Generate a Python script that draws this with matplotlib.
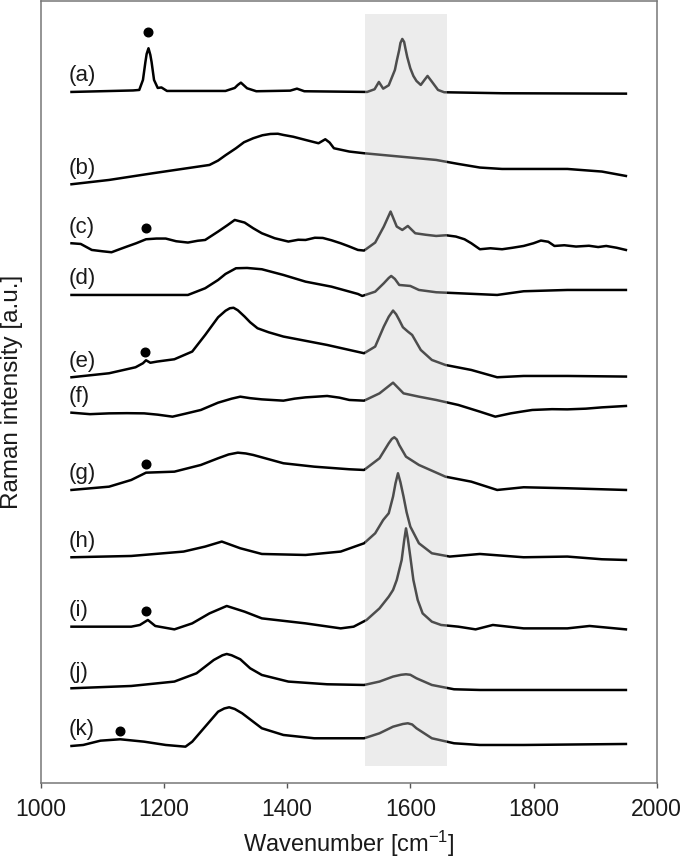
#!/usr/bin/env python3
"""Stacked Raman spectra (a)-(k) with the G-band region shaded."""

import matplotlib

matplotlib.use("Agg")
import matplotlib.pyplot as plt

plt.rcParams["font.family"] = ["Liberation Sans", "DejaVu Sans"]
plt.rcParams["mathtext.default"] = "regular"

# spectra: wavenumber [cm-1] and intensity [a.u.] above each trace offset
wn_a = [1050, 1150, 1160, 1166, 1170, 1172, 1175, 1178, 1180, 1184,
        1190, 1196, 1205, 1300, 1315, 1320, 1325, 1330, 1335, 1350,
        1405, 1416, 1428, 1530, 1542, 1549, 1556, 1565, 1575, 1578,
        1582, 1584, 1587, 1590, 1592, 1595, 1600, 1605, 1610, 1617,
        1623, 1628, 1635, 1645, 1655, 1750, 1950]
int_a = [0, 1.5, 2, 12, 30, 38, 43.7, 37, 30, 12,
         4, 4.5, 1, 1, 4, 7, 9.3, 6.5, 3.7, 0.7,
         1.3, 3.3, 0.7, 0, 2.7, 10, 3.3, 6.7, 22, 31,
         42, 49, 53, 50, 43.7, 35, 23.7, 16, 11, 7,
         12, 16, 10.3, 2, -0.3, -1.3, -1.7]

wn_b = [1050, 1111, 1182, 1274, 1288, 1300, 1317, 1330, 1345, 1360,
        1373, 1385, 1394, 1410, 1430, 1451, 1462, 1469, 1476, 1501,
        1525, 1572, 1642, 1678, 1713, 1749, 1855, 1911, 1950]
int_b = [0, 4.3, 11, 19.3, 23.7, 29, 36, 42, 46, 49,
         50.3, 50.5, 49.3, 47.5, 44.3, 41, 45, 41.7, 36, 32.7,
         31, 28.3, 24.3, 20.3, 16.7, 15.3, 15.3, 12.7, 8.3]

wn_c = [1050, 1065, 1083, 1100, 1115, 1128, 1140, 1155, 1171, 1188,
        1203, 1220, 1239, 1255, 1267, 1288, 1303, 1315, 1323, 1331,
        1345, 1359, 1380, 1402, 1418, 1430, 1445, 1458, 1472, 1487,
        1500, 1515, 1525, 1543, 1557, 1568, 1578, 1587, 1596, 1608,
        1625, 1642, 1658, 1674, 1688, 1699, 1713, 1730, 1749, 1766,
        1784, 1800, 1812, 1824, 1834, 1850, 1869, 1890, 1905, 1918,
        1935, 1950]
int_c = [0, -0.7, -6.7, -8, -9, -6, -3.3, 0, 4, 4.7,
         4.7, 2, 0.7, 2.5, 3.3, 11.7, 18, 23.3, 22, 20.7,
         15, 10, 5, 1.7, 3.5, 3.3, 5.5, 5.3, 3, 0,
         -3, -6.7, -7.3, 0.7, 16.7, 31.7, 16.7, 13.3, 17.3, 10,
         8.5, 7.3, 8, 6.7, 4, 0, -6, -5, -6, -4.5,
         -2.7, 0, 2.7, 1.5, -2.7, -2, -3.3, -2.5, -3.8, -2.7,
         -4.5, -6.7]

wn_d = [1050, 1147, 1239, 1267, 1288, 1300, 1317, 1335, 1359, 1394,
        1430, 1472, 1515, 1522, 1543, 1557, 1565, 1569, 1575, 1582,
        1600, 1614, 1642, 1741, 1784, 1855, 1950]
int_d = [0, 0, 0, 6.7, 15, 21, 26.7, 27, 25.7, 20,
         13.3, 8.3, 1, -1, 3.3, 11.7, 17, 19, 16, 10,
         9, 5, 2.7, 0, 3.7, 5, 5]

wn_e = [1050, 1111, 1154, 1166, 1171, 1178, 1189, 1217, 1246, 1267,
        1288, 1300, 1307, 1313, 1320, 1331, 1340, 1352, 1370, 1394,
        1465, 1525, 1543, 1557, 1565, 1572, 1577, 1582, 1588, 1596,
        1603, 1617, 1635, 1657, 1699, 1741, 1784, 1855, 1950]
int_e = [0, 4, 10, 14, 17, 14.5, 15.7, 18, 25.7, 42.3,
         60, 66.5, 69, 69.5, 67, 60.7, 55, 49, 45, 40.7,
         32.3, 24, 30.7, 50.7, 60.5, 66.7, 63, 57.3, 50, 45.7,
         42.3, 27.3, 17.3, 12.3, 7.3, 0, 1.3, 1.3, 0.7]

wn_f = [1050, 1080, 1111, 1140, 1168, 1190, 1214, 1235, 1260, 1288,
        1310, 1324, 1340, 1359, 1394, 1412, 1430, 1448, 1465, 1485,
        1501, 1525, 1550, 1572, 1589, 1614, 1642, 1678, 1713, 1738,
        1763, 1780, 1798, 1830, 1855, 1885, 1911, 1950]
int_f = [0, -1.5, -0.7, -0.5, -0.7, -2, -4, -1, 2.7, 10,
         14, 16, 14.5, 13.3, 12, 14, 15.3, 16, 16.7, 15,
         12.7, 12, 19.3, 30, 19.3, 16, 12.7, 7.7, 1, -4,
         -0.7, 1, 2.7, 3.5, 3.3, 4, 5.3, 6.7]

wn_g = [1050, 1111, 1147, 1171, 1217, 1260, 1288, 1305, 1320, 1333,
        1345, 1394, 1444, 1501, 1525, 1550, 1565, 1570, 1574, 1578,
        1582, 1593, 1614, 1657, 1699, 1741, 1784, 1855, 1950]
int_g = [0, 3.3, 10, 17.3, 18.3, 25, 31.7, 35.5, 37.3, 36.5,
         35, 26.7, 23.3, 20.7, 20, 31.7, 46.7, 51, 52.7, 50.5,
         45, 33.3, 25, 13.3, 8.3, 0, 2.7, 1.7, 0]

wn_h = [1050, 1147, 1232, 1267, 1294, 1324, 1359, 1430, 1487, 1525,
        1543, 1556, 1565, 1572, 1576, 1580, 1584, 1589, 1594, 1600,
        1614, 1635, 1664, 1713, 1784, 1855, 1911, 1950]
int_h = [0, 1.3, 5.7, 10.7, 15.7, 9, 3.3, 2.3, 5.7, 14,
         24, 37.3, 44, 60.7, 74, 84, 75, 60.7, 45, 30.7,
         14, 4, 0.7, 3.3, 0, 0.7, -2, -2.7]

wn_i = [1050, 1147, 1161, 1174, 1186, 1217, 1246, 1274, 1302, 1331,
        1359, 1430, 1487, 1508, 1529, 1550, 1565, 1572, 1578, 1586,
        1590, 1593, 1596, 1600, 1605, 1612, 1620, 1635, 1650, 1678,
        1706, 1734, 1784, 1855, 1891, 1950]
int_i = [0, 0, 1.7, 6.7, 0.7, -2.7, 3.3, 13.3, 20.7, 15,
         8.3, 3.3, -1.7, 0, 6.7, 18.3, 30, 36.7, 46.7, 66.7,
         86, 98.3, 88, 70, 46.7, 26.7, 13.3, 5, 1.7, 0,
         -2.7, 1.7, -1.7, -1.7, 0.7, -2.7]

wn_j = [1050, 1147, 1217, 1253, 1281, 1295, 1302, 1310, 1324, 1340,
        1359, 1402, 1465, 1525, 1550, 1572, 1585, 1593, 1600, 1610,
        1635, 1671, 1713, 1950]
int_j = [0, 2.3, 6.7, 15, 28.3, 33, 34.3, 33, 29, 20,
         13.3, 6.7, 4, 3.3, 6.7, 11.7, 13.5, 14, 13.5, 10,
         3.3, -1, -1.7, -1.7]

wn_k = [1050, 1069, 1097, 1129, 1168, 1203, 1235, 1246, 1267, 1288,
        1298, 1306, 1315, 1327, 1359, 1394, 1444, 1525, 1550, 1572,
        1588, 1596, 1603, 1610, 1635, 1671, 1713, 1784, 1950]
int_k = [0, 1, 5.3, 6.7, 4.3, 1, -0.7, 4.3, 19.3, 34.3,
         37.5, 38.7, 37, 32.7, 17.7, 11, 7.7, 7.7, 12.7, 19.3,
         22, 22.7, 21.5, 17.7, 7.7, 2.7, 1, 1, 2]

trace_names = ["(a)", "(b)", "(c)", "(d)", "(e)", "(f)", "(g)", "(h)", "(i)", "(j)", "(k)"]
trace_offsets = [691, 598.7, 539.7, 488, 405.7, 370.3, 293, 225.7, 156.3, 94.7, 37]

# marked band (filled circles): trace index, wavenumber, height above trace offset
dot_trace = [0, 2, 4, 6, 8, 10]
dot_wn = [1175, 1171, 1169, 1171, 1171, 1129]
dot_height = [59.7, 15.6, 25.6, 25.7, 16, 15]

band_lo, band_hi = 1526, 1660


def main() -> None:
    spectra = [
        (wn_a, int_a), (wn_b, int_b), (wn_c, int_c), (wn_d, int_d), (wn_e, int_e), (wn_f, int_f),
        (wn_g, int_g), (wn_h, int_h), (wn_i, int_i), (wn_j, int_j), (wn_k, int_k),
    ]

    fig = plt.figure(figsize=(6.85, 8.59), dpi=100)
    ax = fig.add_axes([0.0594, 0.0885, 0.8993, 0.9104])
    ax.set_xlim(1000, 2000)
    ax.set_ylim(0, 782)

    for (wn, inten), offset, name in zip(spectra, trace_offsets, trace_names):
        ax.plot(wn, [v + offset for v in inten], color="black", linewidth=1.8,
                solid_joinstyle="round", zorder=2)
        ax.text(1045, offset + 16, name, fontsize=16, ha="left", va="center", color="#1a1a1a")

    ax.plot(
        dot_wn,
        [trace_offsets[t] + h for t, h in zip(dot_trace, dot_height)],
        "o",
        color="black",
        markersize=6.2,
        zorder=3,
    )

    # shaded region sits on top of the lines, so they read grey inside it
    ax.axvspan(band_lo, band_hi, ymin=17 / 782, ymax=769 / 782,
               color="#cdcdcd", alpha=0.38, linewidth=0, zorder=4)

    ax.set_xticks(range(1000, 2001, 200))
    ax.set_yticks([])
    ax.tick_params(axis="x", direction="out", length=3.5, width=1, color="#555555",
                   labelsize=16.5, labelcolor="#1a1a1a", pad=7)
    for spine in ax.spines.values():
        spine.set_color("#777777")
        spine.set_linewidth(1.1)

    ax.set_xlabel("Wavenumber [cm$^{-1}$]", fontsize=17, color="#1a1a1a", labelpad=6)
    ax.set_ylabel("Raman intensity [a.u.]", fontsize=17.5, color="#1a1a1a")
    ax.yaxis.set_label_coords(-0.029, 0.5)

    fig.savefig("out.png", dpi=100)
    plt.close(fig)


if __name__ == "__main__":
    main()
